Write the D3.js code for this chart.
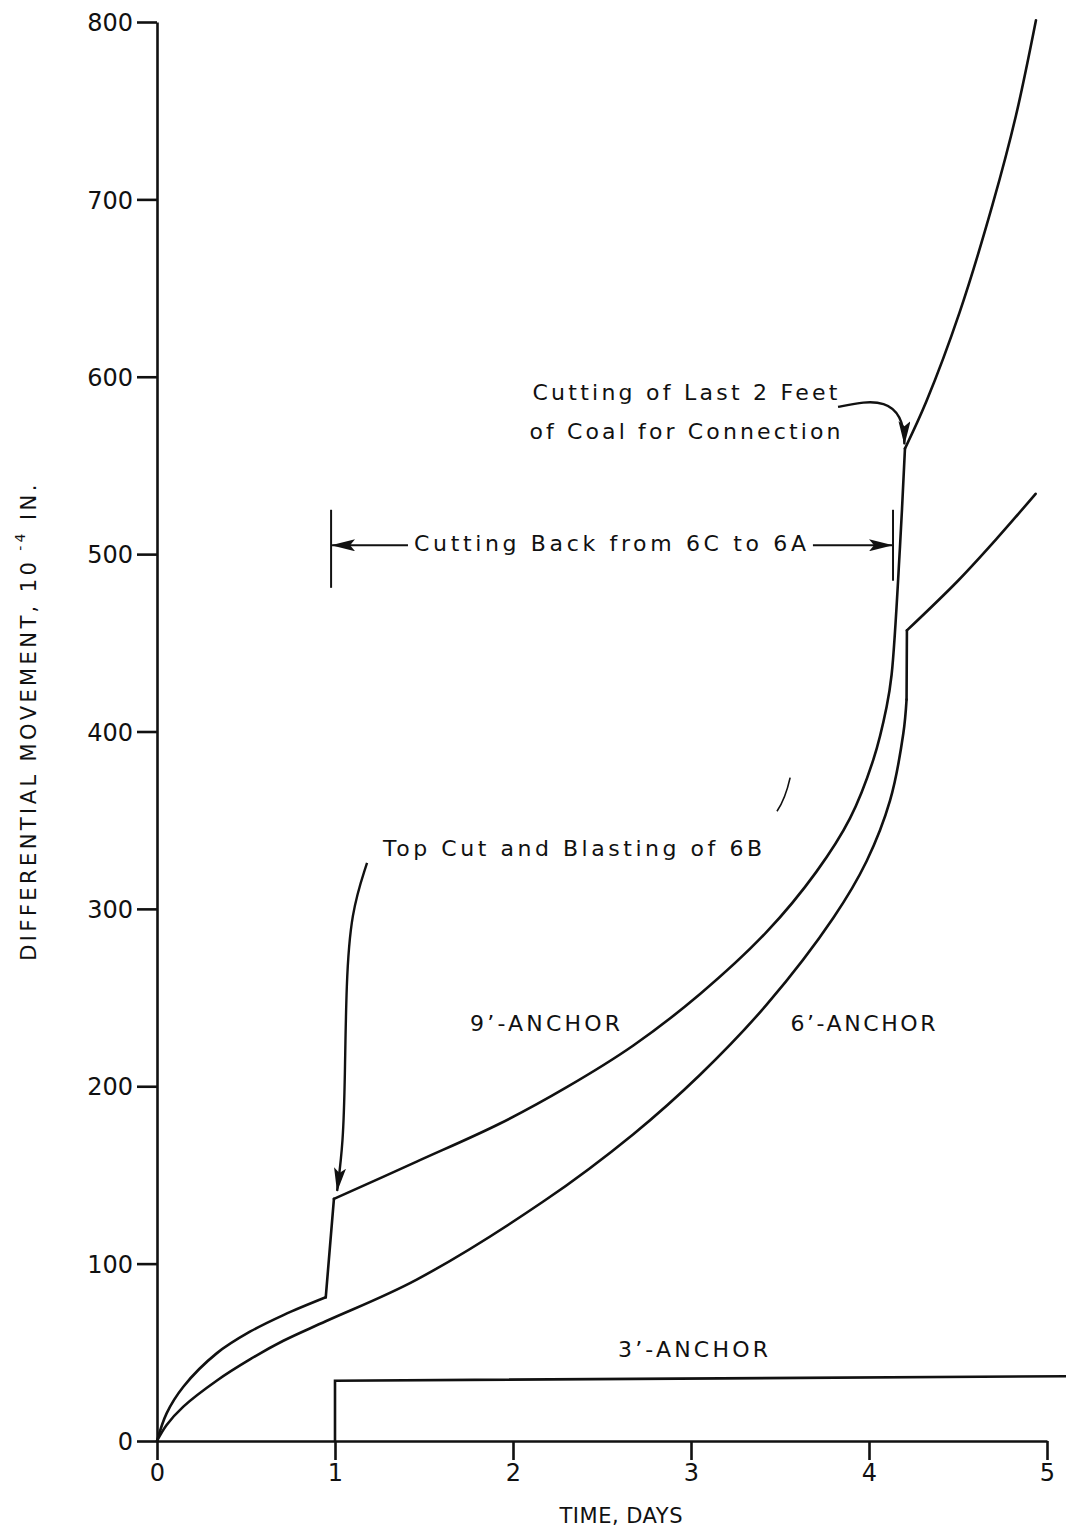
<!DOCTYPE html>
<html>
<head>
<meta charset="utf-8">
<script src="https://cdn.jsdelivr.net/npm/d3@7"></script>
<style>
  body { margin: 0; background: #fff; }
  svg { display: block; font-family: "DejaVu Sans", sans-serif; }
</style>
</head>
<body>
<svg id="chart" width="1066" height="1536"></svg>
<script>
// ---- data (days, 10^-4 in.) ----
const xTicks = [0, 1, 2, 3, 4, 5];
const yTicks = [0, 100, 200, 300, 400, 500, 600, 700, 800];

const nineDays   = [0, 0.054, 0.148, 0.335, 0.522, 0.71, 0.948, 0.994, 1.459, 1.927, 2.302, 2.676, 3.051, 3.425, 3.705, 3.893, 4.024, 4.099, 4.127, 4.174, 4.202, 4.322, 4.508, 4.694, 4.825, 4.938];
const nineValues = [0, 15.6, 30.6, 49.4, 61.6, 71, 81, 136.5, 157.5, 179, 199.5, 223, 252, 287, 321, 351, 384, 414, 432, 504, 559.5, 586, 636, 697, 747, 801];
const nineBreaks = [6, 7, 20];   // indices of sharp kinks

const sixDays   = [0, 0.054, 0.148, 0.335, 0.522, 0.71, 0.948, 1.459, 2.17, 2.676, 3.051, 3.425, 3.8, 3.987, 4.118, 4.193, 4.211, 4.213, 4.5, 4.72, 4.936];
const sixValues = [0, 9, 19.4, 34, 46, 56.5, 67.5, 91, 135, 173, 206.5, 246, 295, 327, 361, 399, 418, 457, 485, 509, 534];
const sixBreaks = [16, 17];

const threeDays   = [1.0, 1.0, 5.107];
const threeValues = [0, 34, 36.5];

// ---- layout ----
const svg = d3.select("#chart");
const x = d3.scaleLinear().domain([0, 5]).range([157, 1047]);
const y = d3.scaleLinear().domain([0, 800]).range([1441, 22]);
const ink = "#111";
const FONT = "'DejaVu Sans', sans-serif";

// axes
const gy = svg.append("g").attr("transform", `translate(${x(0)},0)`)
  .call(d3.axisLeft(y).tickValues(yTicks).tickSize(20).tickSizeOuter(0).tickPadding(4).tickFormat(d3.format("d")));
const gx = svg.append("g").attr("transform", `translate(0,${y(0)})`)
  .call(d3.axisBottom(x).tickValues(xTicks).tickSize(19).tickSizeOuter(0).tickPadding(4).tickFormat(d3.format("d")));
[gy, gx].forEach(g => {
  g.selectAll("path, line").attr("stroke", ink).attr("stroke-width", 2.6);
  g.selectAll("text").attr("fill", ink).attr("font-size", 24).attr("font-family", FONT);
});
gy.selectAll("text").attr("dy", "0.36em");

// series drawing with sharp kinks at break indices
function drawSeries(days, vals, breaks) {
  const pts = days.map((d, i) => [d, vals[i]]);
  const cuts = [0, ...breaks, pts.length - 1];
  const line = d3.line().x(d => x(d[0])).y(d => y(d[1])).curve(d3.curveCatmullRom.alpha(0.5));
  const lin = d3.line().x(d => x(d[0])).y(d => y(d[1]));
  for (let k = 0; k < cuts.length - 1; k++) {
    const seg = pts.slice(cuts[k], cuts[k + 1] + 1);
    svg.append("path").attr("d", (seg.length > 2 ? line : lin)(seg))
      .attr("fill", "none").attr("stroke", ink).attr("stroke-width", 2.6)
      .attr("stroke-linejoin", "round").attr("stroke-linecap", "round");
  }
}
drawSeries(nineDays, nineValues, nineBreaks);
drawSeries(sixDays, sixValues, sixBreaks);
svg.append("path")
  .attr("d", d3.line().x(d => x(d[0])).y(d => y(d[1]))(threeDays.map((d, i) => [d, threeValues[i]])))
  .attr("fill", "none").attr("stroke", ink).attr("stroke-width", 2.6);

// ---- annotations ----
const defs = svg.append("defs");
defs.append("marker").attr("id", "ah").attr("viewBox", "0 0 24 12")
  .attr("refX", 23).attr("refY", 6).attr("markerWidth", 24).attr("markerHeight", 12)
  .attr("markerUnits", "userSpaceOnUse").attr("orient", "auto")
  .append("path").attr("d", "M0,0 L24,6 L0,12 L5,6 Z").attr("fill", ink);

function txt(t, tx, ty, len, opts = {}) {
  const e = svg.append("text").attr("x", x(tx)).attr("y", y(ty))
    .attr("text-anchor", "middle").attr("dominant-baseline", "middle")
    .attr("font-size", opts.size || 22).attr("fill", ink).text(t);
  if (len) e.attr("textLength", len).attr("lengthAdjust", "spacing");
  return e;
}

// Cutting back bracket
const cbL = 0.978, cbR = 4.135, cbV = 505;
svg.append("line").attr("x1", x(cbL)).attr("x2", x(cbL)).attr("y1", y(525)).attr("y2", y(481)).attr("stroke", ink).attr("stroke-width", 2);
svg.append("line").attr("x1", x(cbR)).attr("x2", x(cbR)).attr("y1", y(525)).attr("y2", y(485)).attr("stroke", ink).attr("stroke-width", 2);
svg.append("line").attr("x1", x(1.41)).attr("x2", x(cbL) + 1).attr("y1", y(cbV)).attr("y2", y(cbV)).attr("stroke", ink).attr("stroke-width", 2).attr("marker-end", "url(#ah)");
svg.append("line").attr("x1", x(3.685)).attr("x2", x(cbR) - 1).attr("y1", y(cbV)).attr("y2", y(cbV)).attr("stroke", ink).attr("stroke-width", 2).attr("marker-end", "url(#ah)");
txt("Cutting Back from 6C to 6A", 2.545, cbV, 392);

// Cutting of last 2 feet
txt("Cutting of Last 2 Feet", 2.966, 590, 305);
txt("of Coal for Connection", 2.966, 568.5, 311);
svg.append("path")
  .attr("d", `M${x(3.826)},${y(583)} C${x(3.98)},${y(586)} ${x(4.2)},${y(592)} ${x(4.199)},${y(562)}`)
  .attr("fill", "none").attr("stroke", ink).attr("stroke-width", 2.4).attr("marker-end", "url(#ah)");

// Top cut and blasting of 6B
svg.append("text").attr("x", x(1.27)).attr("y", y(333)).attr("dominant-baseline", "middle")
  .attr("font-size", 22).attr("fill", ink).attr("textLength", 379).attr("lengthAdjust", "spacing")
  .text("Top Cut and Blasting of 6B");
svg.append("path")
  .attr("d", d3.line().x(d => x(d[0])).y(d => y(d[1])).curve(d3.curveBasis)(
    [[1.18, 326], [1.09, 298], [1.063, 258], [1.056, 205], [1.046, 168], [1.012, 141]]))
  .attr("fill", "none").attr("stroke", ink).attr("stroke-width", 2.4).attr("marker-end", "url(#ah)");

// stray tick mark
svg.append("path")
  .attr("d", `M${x(3.557)},${y(374)} Q${x(3.53)},${y(362)} ${x(3.483)},${y(355)}`)
  .attr("fill", "none").attr("stroke", ink).attr("stroke-width", 1.6);

// series labels
txt("9’-ANCHOR", 2.18, 234.5, 150);
txt("6’-ANCHOR", 3.966, 234.5, 145);
txt("3’-ANCHOR", 3.011, 50.5, 150);

// axis titles
svg.append("text").attr("x", 621).attr("y", 1517).attr("text-anchor", "middle").attr("dominant-baseline", "middle")
  .attr("font-size", 21).attr("fill", ink).attr("textLength", 123).attr("lengthAdjust", "spacing").text("TIME, DAYS");
const yt = svg.append("text").attr("transform", "translate(30,721) rotate(-90)")
  .attr("text-anchor", "middle").attr("dominant-baseline", "middle")
  .attr("font-size", 21).attr("letter-spacing", 3.4).attr("fill", ink);
yt.append("tspan").text("DIFFERENTIAL  MOVEMENT,  10");
yt.append("tspan").attr("font-size", 14).attr("dy", -9).text(" -4");
yt.append("tspan").attr("dy", 9).text("  IN.");
</script>
</body>
</html>
